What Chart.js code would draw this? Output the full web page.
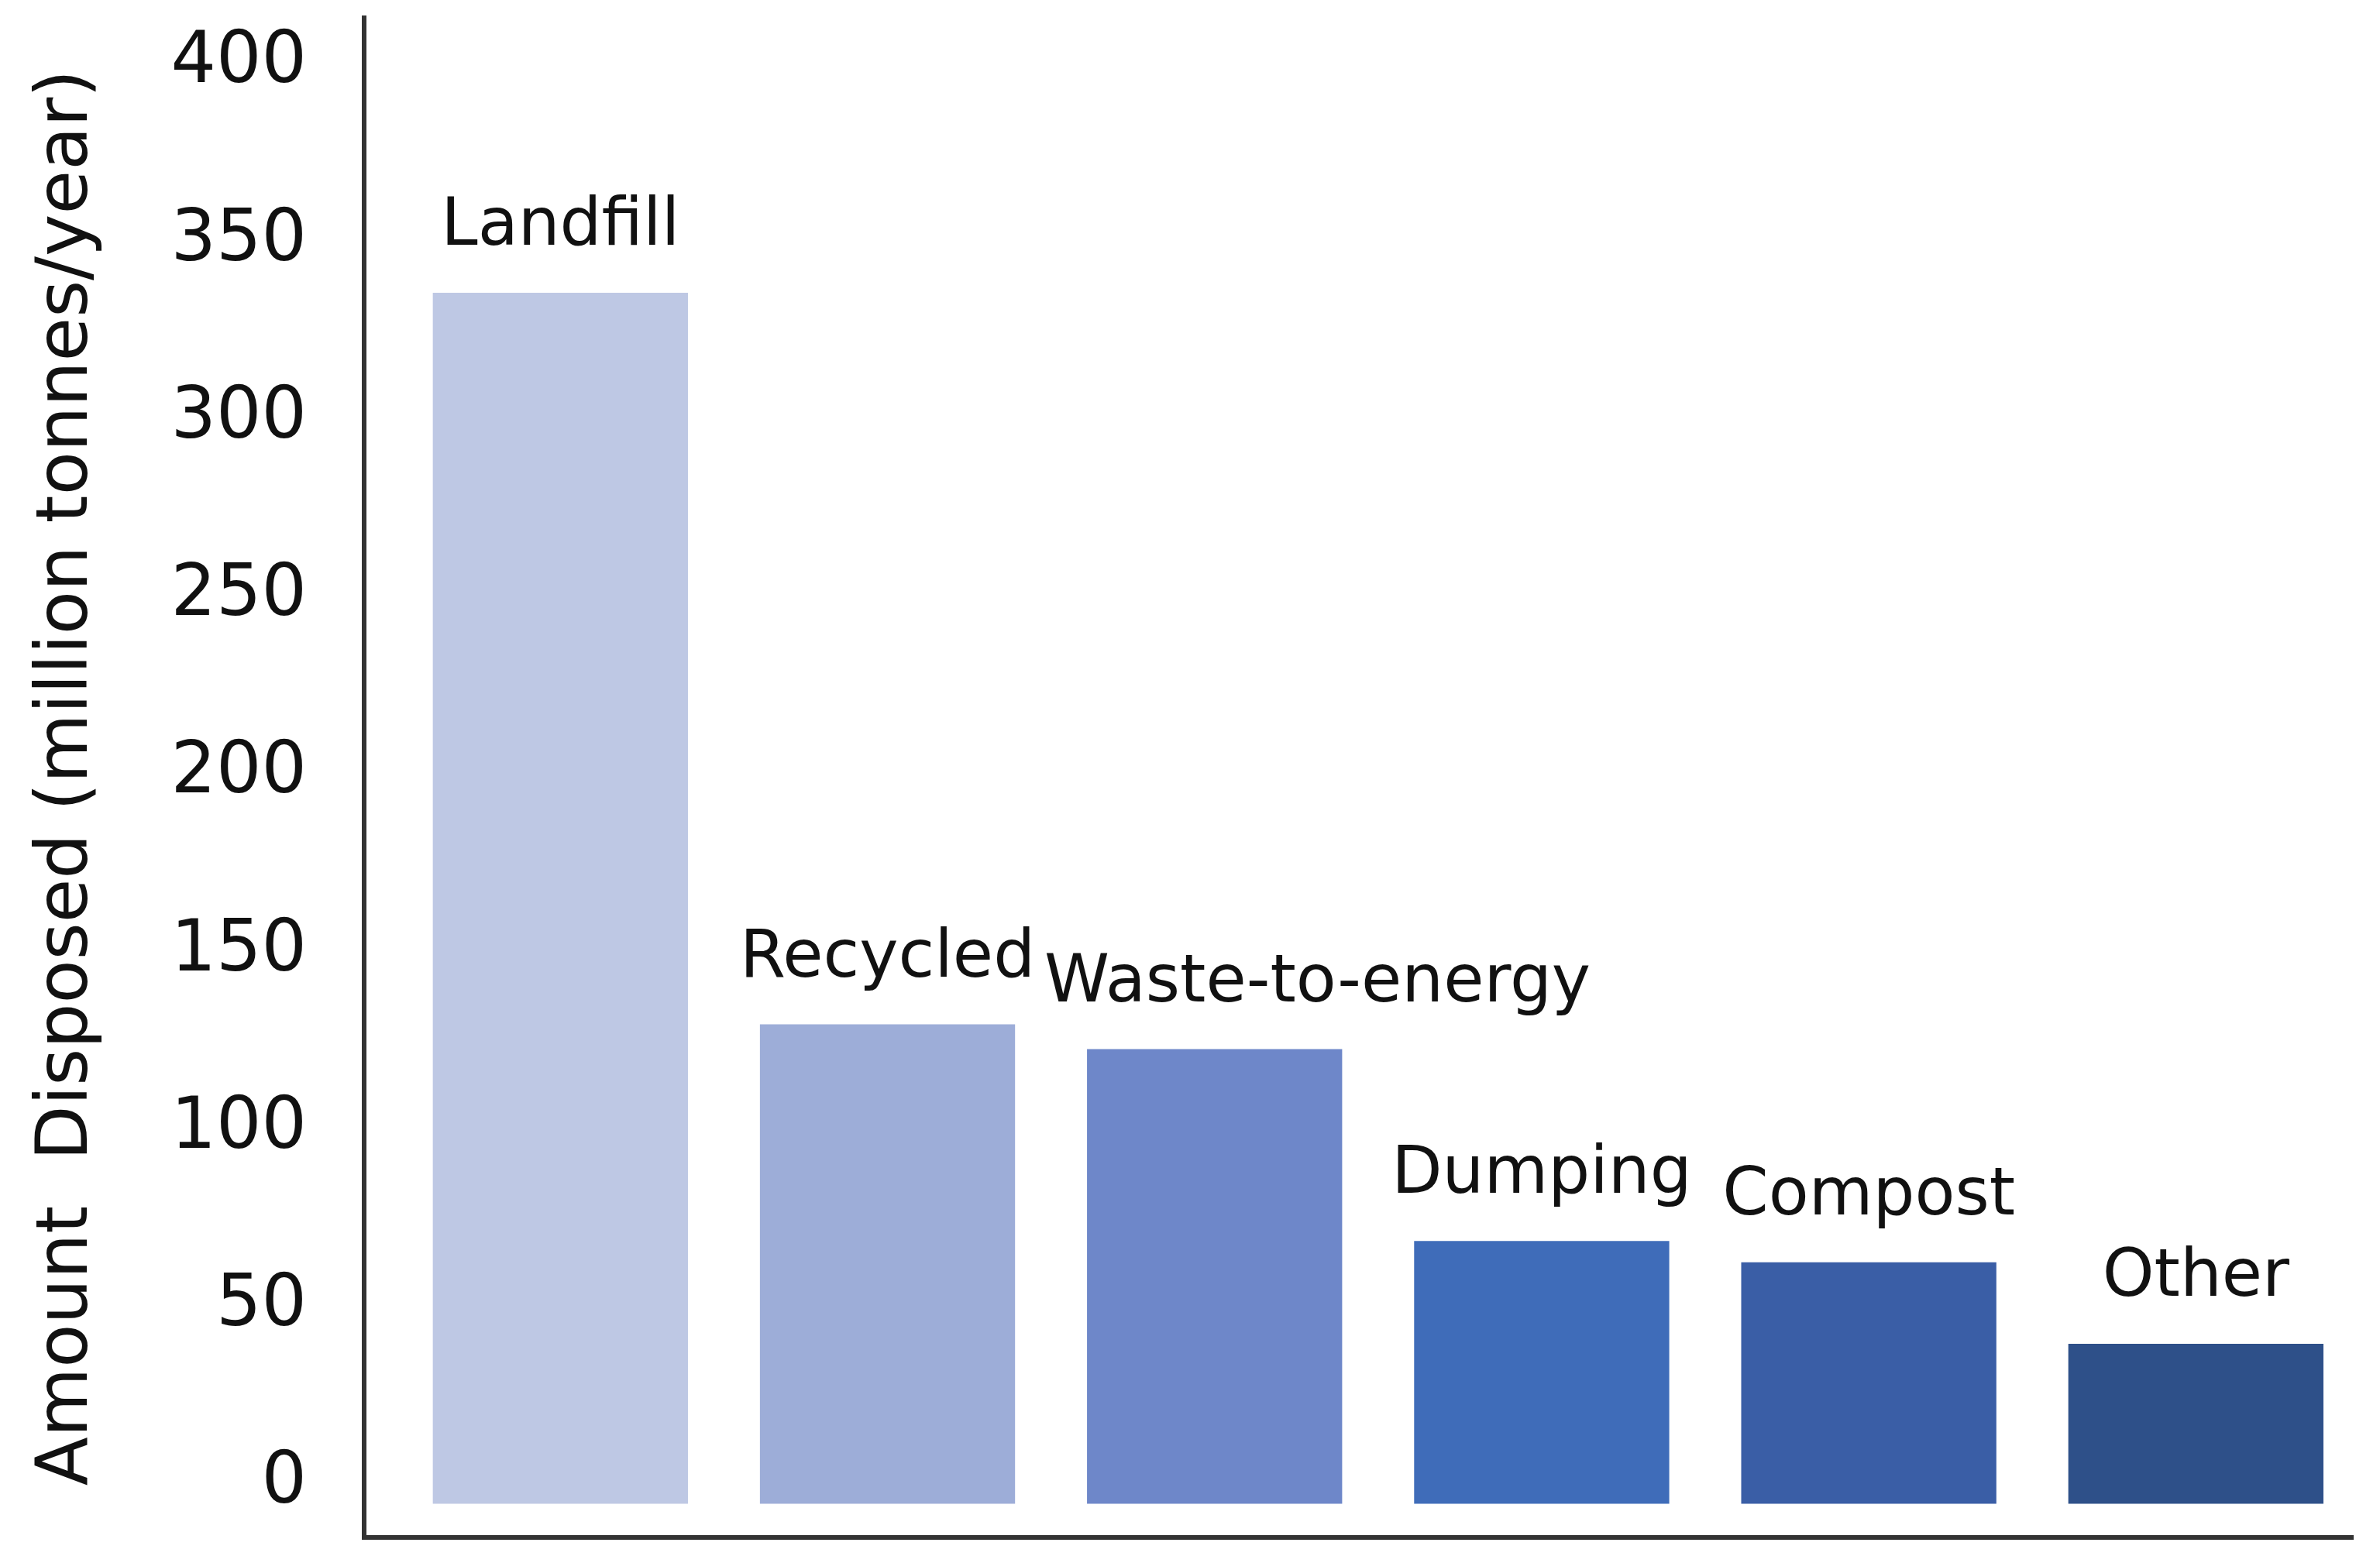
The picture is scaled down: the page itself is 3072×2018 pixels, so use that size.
<!DOCTYPE html>
<html>
<head>
<meta charset="utf-8">
<script src="https://cdn.jsdelivr.net/npm/chart.js@4.4.1/dist/chart.umd.min.js"></script>
<style>
    html, body { margin: 0; padding: 0; background: #fff; overflow: hidden; }
    #wrap { width: 3072px; height: 2018px; }
</style>
</head>
<body>
<div id="wrap"><canvas id="waste-disposal"></canvas></div>
<script>
"use strict";

// datos
const CATEGORIES = ["Landfill", "Recycled", "Waste-to-energy", "Dumping", "Compost", "Other"];
const AMOUNTS = [341, 135, 128, 74, 68, 45];
const BAR_COLORS = ["#bec8e4", "#9dadd8", "#6e87c9", "#3f6cb9", "#3a5ea6", "#2e5089"];
const Y_TICKS = [0, 50, 100, 150, 200, 250, 300, 350, 400];
const Y_TITLE = "Amount  Disposed (million tonnes/year)";

const AXIS_COLOR = "#333";
const TEXT_COLOR = "#111";
const LABEL_SIZE = 85;
const LABEL_RISE = 84;
const LABEL_GAP = 12;

// etiquetas encima de cada barra; si chocan con la anterior se corren a la derecha
const barLabels = {
    id: 'barLabels',
    afterDatasetsDraw(chart) {
        const { ctx } = chart;
        const meta = chart.getDatasetMeta(0);
        ctx.save();
        ctx.font = LABEL_SIZE + 'px "DejaVu Sans"';
        ctx.fillStyle = TEXT_COLOR;
        ctx.textAlign = 'left';
        ctx.textBaseline = 'middle';
        let prev = null;
        meta.data.forEach((bar, i) => {
            const text = CATEGORIES[i];
            const w = ctx.measureText(text).width;
            const y = bar.y - LABEL_RISE;
            let left = bar.x - w / 2;
            if (prev && Math.abs(prev.y - y) < LABEL_SIZE * 1.2 && left < prev.right + LABEL_GAP)
                left = prev.right + LABEL_GAP;
            ctx.fillText(text, left, y);
            prev = { right: left + w, y: y };
        });
        ctx.restore();
    }
};

// sin relleno extra en los extremos de los ejes
const noPadding = (scale) => {
    scale.paddingTop = 0;
    scale.paddingBottom = 0;
    scale.paddingLeft = 0;
    scale.paddingRight = 0;
};

const ctx = document.getElementById('waste-disposal').getContext('2d');
const wasteChart = new Chart(ctx, {
    type: 'bar',
    data: {
        datasets: [{
            label: 'Amount disposed',
            data: CATEGORIES.map((c, i) => ({ x: i, y: AMOUNTS[i] })),
            backgroundColor: BAR_COLORS,
            borderWidth: 0,
            categoryPercentage: 1,
            barPercentage: 0.78
        }]
    },
    plugins: [barLabels],
    options: {
        responsive: true,
        maintainAspectRatio: false,
        animation: false,
        layout: {
            padding: { top: 23, right: 35, bottom: 33, left: 0 }
        },
        scales: {
            x: {
                type: 'linear',
                offset: false,
                min: -0.6,
                max: 5.48,
                grid: { display: false, drawTicks: false },
                border: { display: true, color: AXIS_COLOR, width: 6 },
                ticks: { display: false },
                afterBuildTicks: (scale) => {
                    scale.ticks = CATEGORIES.map((c, i) => ({ value: i }));
                },
                afterFit: (scale) => {
                    scale.height = 0;
                    noPadding(scale);
                }
            },
            y: {
                min: -9.5,
                max: 418.4,
                grid: { display: false, drawTicks: false },
                border: { display: true, color: AXIS_COLOR, width: 6 },
                afterBuildTicks: (scale) => {
                    scale.ticks = Y_TICKS.map(v => ({ value: v }));
                },
                afterFit: (scale) => {
                    scale.width = 470;
                    noPadding(scale);
                },
                ticks: {
                    color: TEXT_COLOR,
                    font: { family: '"DejaVu Sans"', size: 92 },
                    padding: 74,
                    labelOffset: -25
                },
                title: {
                    display: true,
                    text: Y_TITLE,
                    color: TEXT_COLOR,
                    font: { family: '"DejaVu Sans"', size: 92 },
                    padding: { top: 33, bottom: 0 }
                }
            }
        },
        plugins: {
            legend: { display: false },
            tooltip: { enabled: false }
        }
    }
});
</script>
</body>
</html>
